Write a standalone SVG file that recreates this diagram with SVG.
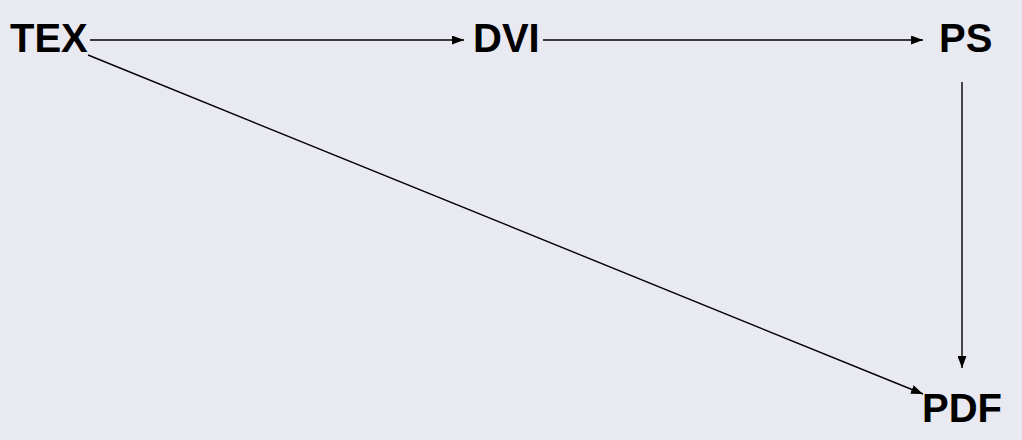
<svg xmlns="http://www.w3.org/2000/svg" width="1022" height="440" viewBox="0 0 1022 440">
<style>
.lbl{font-family:"Liberation Sans",Arial,sans-serif;font-weight:bold;font-size:40px;fill:#000}
.edge{stroke:#000;stroke-width:1.4;fill:none;marker-end:url(#ah)}
</style>
<defs>
<marker id="ah" viewBox="0 0 12 9" refX="12" refY="4.5" markerWidth="12" markerHeight="9" markerUnits="userSpaceOnUse" orient="auto">
<path d="M0,0 L12,4.5 L0,9 z" fill="#000"/>
</marker>
</defs>
<rect width="1022" height="440" fill="#e9e9f1"/>
<g id="connectors">
<line class="edge" x1="90" y1="40" x2="464" y2="40"/>
<line class="edge" x1="543" y1="40" x2="923" y2="40"/>
<line class="edge" x1="962" y1="82" x2="962" y2="368"/>
<line class="edge" x1="88" y1="55" x2="923" y2="394"/>
</g>
<g id="tex"><text class="lbl" x="10" y="52">TEX</text></g>
<g id="dvi"><text class="lbl" x="473" y="52">DVI</text></g>
<g id="ps"><text class="lbl" x="939" y="52">PS</text></g>
<g id="pdf"><text class="lbl" x="922" y="422">PDF</text></g>
</svg>
